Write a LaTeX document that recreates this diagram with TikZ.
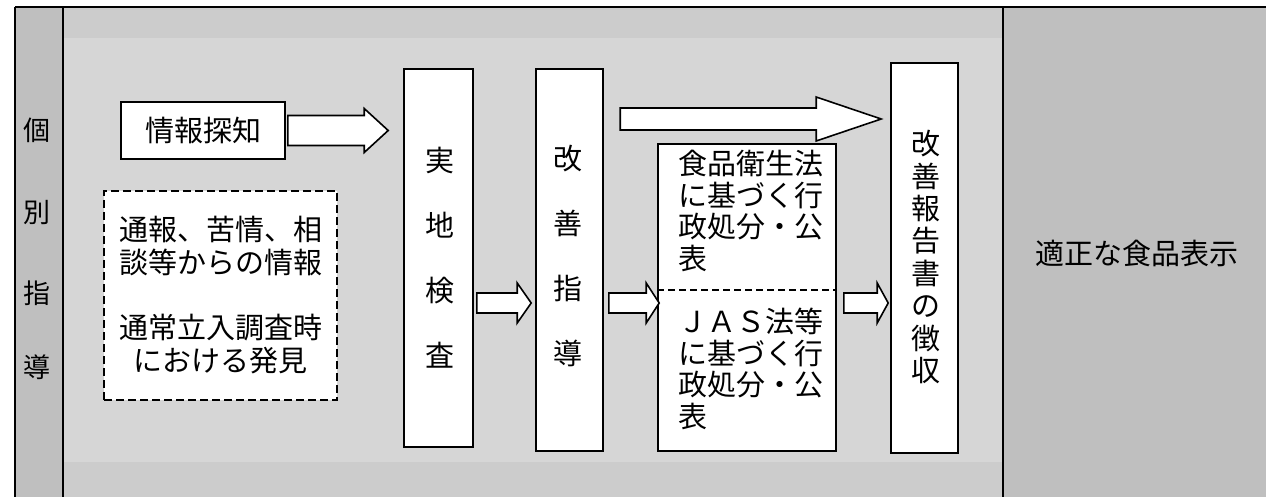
\documentclass[tikz,border=0pt]{standalone}
\usepackage{fontspec}
\setmainfont{Noto Sans CJK JP}
\usetikzlibrary{calc}
\tikzset{
  box/.style={draw=black, fill=white, line width=1.6pt, inner sep=0pt},
  dbox/.style={draw=black, fill=white, line width=1.6pt, dash pattern=on 8pt off 4pt, inner sep=0pt},
  arrowline/.style={draw=black, fill=white, line width=1.6pt, line join=miter},
  frameline/.style={draw=black, line width=1.4pt},
  txt/.style={font=\fontsize{29}{33}\selectfont},
}
\newcommand{\barrow}[5]{% start, tip, shaft half, head half, head length
  \draw[arrowline] let \p1=(#1), \p2=(#2) in
   (\x1,\y2+#3) -- (\x2-#5,\y2+#3) -- (\x2-#5,\y2+#4) -- (\x2,\y2) --
   (\x2-#5,\y2-#4) -- (\x2-#5,\y2-#3) -- (\x1,\y2-#3) -- cycle;}
\begin{document}
\begin{tikzpicture}[x=1pt,y=-1pt]
\useasboundingbox (0,0) rectangle (1266,497);
% backgrounds
\fill[white] (0,0) rectangle (1266,497);
\fill[black!25] (15,7) rectangle (63,497);
\fill[black!16] (63,7) rectangle (1003,497);
\fill[black!25] (1003,7) rectangle (1266,497);
\fill[black!20] (63,7) rectangle (1003,38);
\fill[black!20] (63,462) rectangle (1003,497);
% frame
\draw[frameline] (15,7) -- (1266,7);
\draw[frameline] (15,7) -- (15,497);
\draw[frameline] (63,7) -- (63,497);
\draw[frameline] (1003,7) -- (1003,497);
% left column label
\node[txt, font=\fontsize{27}{33}\selectfont] (lc1) at (37,130) {個};
\node[txt, font=\fontsize{27}{33}\selectfont] (lc2) at (37,213) {別};
\node[txt, font=\fontsize{27}{33}\selectfont] (lc3) at (37,293) {指};
\node[txt, font=\fontsize{27}{33}\selectfont] (lc4) at (37,367) {導};
% boxes
\node[box, txt, minimum width=164pt, minimum height=57pt] (info) at (203,130.5) {情報探知};
\node[dbox, minimum width=233pt, minimum height=209pt] (src) at (220.5,295.5) {};
\node[txt, align=center] (srctxt) at (src.center) {通報、苦情、相\\談等からの情報\\[32pt]通常立入調査時\\における発見};
\node[box, minimum width=69pt, minimum height=378pt] (jitchi) at (438.5,258) {};
\node[txt, align=center, font=\fontsize{29}{65}\selectfont] (jitchitxt) at (440,258) {実\\地\\検\\査};
\node[box, minimum width=67pt, minimum height=382pt] (kaizen) at (569.5,260) {};
\node[txt, align=center, font=\fontsize{29}{65}\selectfont] (kaizentxt) at (568,256) {改\\善\\指\\導};
\node[box, minimum width=178pt, minimum height=307pt] (law) at (747,297.5) {};
\draw[line width=1.4pt, dash pattern=on 7pt off 4pt] (law.west |- 0,290) coordinate (dl) -- (law.east |- 0,290) coordinate (dr);
\node[txt, align=left, anchor=west, font=\fontsize{29}{31.7}\selectfont] (law1) at (675,211) {食品衛生法\\に基づく行\\政処分・公\\表};
\node[txt, align=left, anchor=west, font=\fontsize{29}{31.7}\selectfont] (law2) at (675,369) {ＪＡＳ法等\\に基づく行\\政処分・公\\表};
\node[box, minimum width=67pt, minimum height=390pt] (report) at (924.5,258) {};
\node[txt, align=center, font=\fontsize{29}{32.4}\selectfont] (reporttxt) at (926,257) {改\\善\\報\\告\\書\\の\\徴\\収};
\node[txt] (result) at (1137,253) {適正な食品表示};
% block arrows
\coordinate (a1s) at ([xshift=2pt]info.east);
\coordinate (a1t) at ([xshift=-15pt]jitchi.west |- info.center);
\barrow{a1s}{a1t}{15pt}{22pt}{24pt}
\coordinate (a2s) at ([xshift=3pt]jitchi.east |- 0,303);
\coordinate (a2t) at ([xshift=-4pt]kaizen.west |- 0,303);
\barrow{a2s}{a2t}{10pt}{20pt}{14pt}
\coordinate (a3s) at ([xshift=5pt]kaizen.east |- 0,303);
\coordinate (a3t) at ([xshift=2pt]law.west |- 0,303);
\barrow{a3s}{a3t}{10pt}{20pt}{13pt}
\coordinate (a4s) at ([xshift=7pt]law.east |- 0,303);
\coordinate (a4t) at ([xshift=-2pt]report.west |- 0,303);
\barrow{a4s}{a4t}{10pt}{20pt}{11pt}
\coordinate (a5s) at ([xshift=-37pt]law.west |- 0,119);
\coordinate (a5t) at ([xshift=-9pt]report.west |- 0,119);
\barrow{a5s}{a5t}{11pt}{22pt}{65pt}
\end{tikzpicture}
\end{document}
